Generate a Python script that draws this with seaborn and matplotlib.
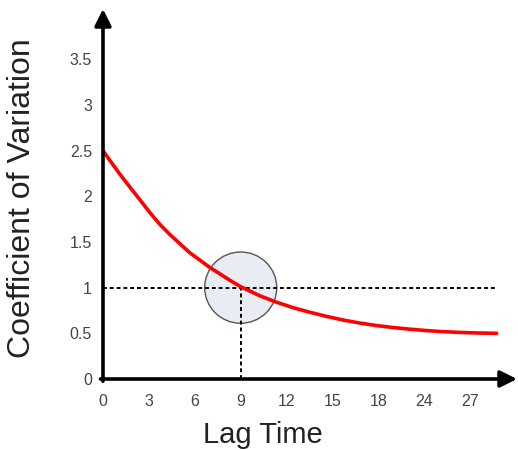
import numpy as np
import pandas as pd
import matplotlib
matplotlib.use("Agg")
import matplotlib.pyplot as plt
from matplotlib.patches import Ellipse
import seaborn as sns

# Curve (x = position along the lag axis, 3 units per tick)
lag_pos = [0, 0.46, 1.11, 1.76, 2.42, 3.07, 3.73, 4.38, 5.03, 5.69, 6.34, 6.99, 7.65, 8.30, 9.0,
           10.26, 11.35, 12.44, 13.53, 14.62, 15.71, 16.80, 17.89, 18.97, 20.07, 21.16, 22.24,
           23.33, 24.42, 25.73]
cv_values = [2.50, 2.39, 2.24, 2.10, 1.96, 1.82, 1.69, 1.58, 1.48, 1.38, 1.30, 1.22, 1.15, 1.08, 1.01,
             0.91, 0.84, 0.78, 0.73, 0.685, 0.645, 0.612, 0.585, 0.563, 0.545, 0.53, 0.518,
             0.51, 0.504, 0.50]

# Tick labels (evenly spaced on the axis, though the values are not)
x_tick_pos = [0, 3, 6, 9, 12, 15, 18, 21, 24]
x_tick_labels = ["0", "3", "6", "9", "12", "15", "18", "24", "27"]
y_ticks = [0, 0.5, 1, 1.5, 2, 2.5, 3, 3.5]
y_tick_labels = ["0", "0.5", "1", "1.5", "2", "2.5", "3", "3.5"]

# Highlighted point
mark_x = 9
mark_y = 1

data = pd.DataFrame({"lag": lag_pos, "cv": cv_values})

#########################################################################################################################

sns.set_style("white")
plt.rcParams["font.family"] = ["Liberation Sans", "DejaVu Sans"]

fig = plt.figure(figsize=(5.18, 4.5), dpi=100)
ax = fig.add_axes([103 / 518, (450 - 379) / 450, 414 / 518, 370 / 450])

ax.set_xlim(0, 27.06)
ax.set_ylim(0, 4.05)

# Circle around the crossing point
circle = Ellipse((mark_x, mark_y), width=4.71, height=0.78, facecolor="#E8EDF4",
                 edgecolor="#555555", linewidth=1.0, zorder=2)
ax.add_patch(circle)

# Dotted guide lines
ax.plot([0, lag_pos[-1]], [mark_y, mark_y], color="black", linewidth=1.4,
        linestyle=(0, (2, 1.5)), zorder=3)
ax.plot([mark_x, mark_x], [0, mark_y], color="black", linewidth=1.4,
        linestyle=(0, (2, 1.5)), zorder=3)

# Red curve
sns.lineplot(data=data, x="lag", y="cv", color="#FF0000", linewidth=2.6, ax=ax, zorder=4,
             solid_joinstyle="round", solid_capstyle="round")

# Axes drawn as arrows
for s in ax.spines.values():
    s.set_visible(False)
arrow = dict(arrowstyle="-|>,head_length=1.0,head_width=0.5", color="black", lw=2.6,
             shrinkA=0, shrinkB=0)
ax.annotate("", xy=(1.0, 0), xytext=(-0.006, 0), xycoords="axes fraction",
            arrowprops=arrow, annotation_clip=False, zorder=5)
ax.annotate("", xy=(0, 1.0), xytext=(0, -0.006), xycoords="axes fraction",
            arrowprops=arrow, annotation_clip=False, zorder=5)

ax.set_xticks(x_tick_pos)
ax.set_xticklabels(x_tick_labels)
ax.set_yticks(y_ticks)
ax.set_yticklabels(y_tick_labels)
ax.tick_params(axis="x", length=0, pad=10.5, labelsize=11.5, labelcolor="#444444")
ax.tick_params(axis="y", length=0, pad=8, labelsize=11.5, labelcolor="#444444")

ax.set_xlabel("")
ax.set_ylabel("")
ax.text(0.386, (379 - 443) / 370, "Lag Time", transform=ax.transAxes, ha="center", va="baseline",
        fontsize=21, color="#222222")
ax.text((22 - 103) / 414, (379 - 198) / 370, "Coefficient of Variation", transform=ax.transAxes,
        ha="center", va="center", rotation=90, fontsize=23, color="#222222")

fig.savefig("out.png", dpi=100)
